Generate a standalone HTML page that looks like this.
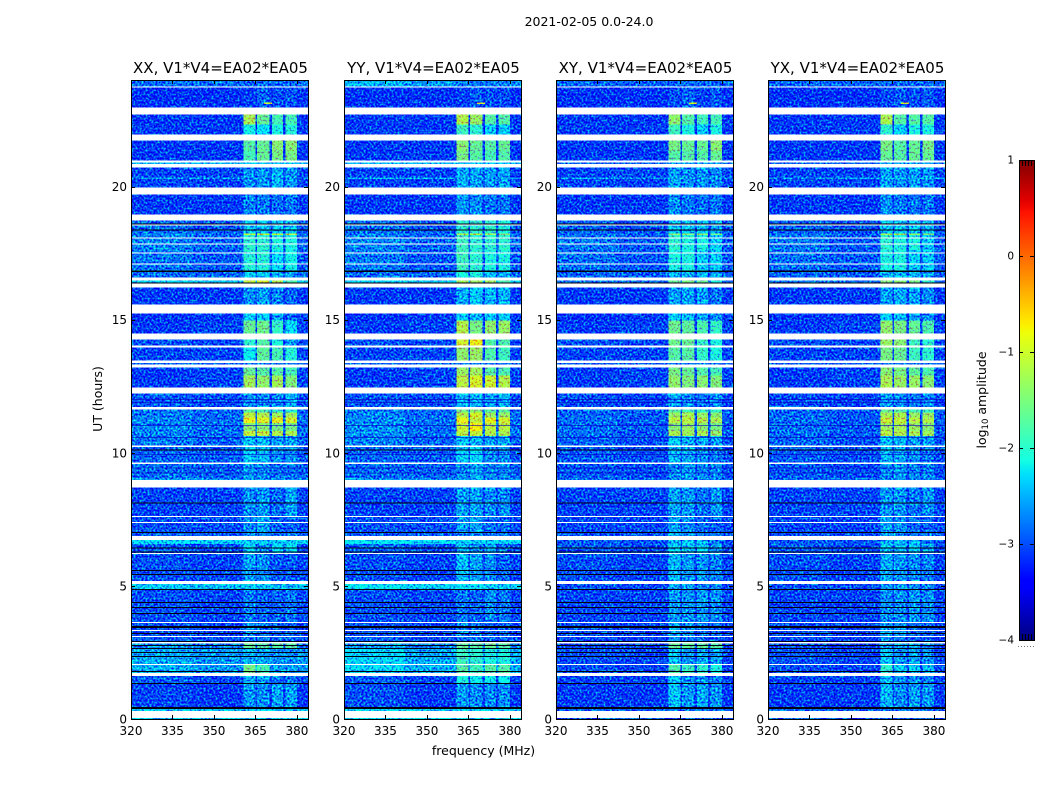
<!DOCTYPE html>
<html lang="en">
<head>
<meta charset="utf-8">
<title>2021-02-05 0.0-24.0 dynamic spectra</title>
<style>
html,body{margin:0;padding:0;background:#fff;width:1050px;height:800px;overflow:hidden}
svg{display:block}
text{font-family:"DejaVu Sans","Liberation Sans",sans-serif;fill:#000}
.tick{font-size:12px}
.title{font-size:15px;text-anchor:middle}
.lab{font-size:12.5px;text-anchor:middle}
</style>
</head>
<body>
<svg id="fig" xmlns="http://www.w3.org/2000/svg" width="1050" height="800" viewBox="0 0 1050 800">
<defs>
<filter id="speckle" x="0" y="0" width="1" height="1" color-interpolation-filters="sRGB">
<feTurbulence type="fractalNoise" baseFrequency="0.5" numOctaves="1" seed="7" result="n"/>
<feColorMatrix in="n" type="matrix" values="0 0 0 0 .5  2.2 0 0 0 -.6  0 .8 0 0 .1  0 0 0 0 1" result="m"/>
<feComposite in="SourceGraphic" in2="m" operator="arithmetic" k1="0" k2="1" k3="1" k4="-.5" result="s"/>
<feComposite in="s" in2="SourceAlpha" operator="in"/>
</filter>
<linearGradient id="jet" x1="0" y1="1" x2="0" y2="0"></linearGradient>
</defs>
<text x="589" y="26" font-size="12.5" text-anchor="middle">2021-02-05 0.0-24.0</text>
<text class="lab" x="483.5" y="755">frequency (MHz)</text>
<text class="lab" x="0" y="0" transform="translate(102,399) rotate(-90)">UT (hours)</text>
<text class="lab" x="0" y="0" transform="translate(986,400) rotate(-90)">log<tspan font-size="8.5" dy="2">10</tspan><tspan dy="-2"> amplitude</tspan></text>
<g id="panels"></g>
<g id="cbar"></g>
</svg>
<script>
// ---- data ----
const panelNames = ['XX', 'YY', 'XY', 'YX'];
const panelTitle = ', V1*V4=EA02*EA05';
const freqTicks = [320, 335, 350, 365, 380];
const utTicks = [0, 5, 10, 15, 20];
const cbarTicks = [1, 0, -1, -2, -3, -4];
const freqEdges = [320, 342, 360.6, 365, 365.6, 370, 371, 375, 375.8, 380.1, 384];
const columnSource = [0, 1, 2, 1, 3, 1, 4, 1, 5, 1];
const rowTops = [24,23.71,22.70,22.33,21.72,21.35,20.90,20.71,19.70,18.72,18.23,18.18,17.60,16.85,16.47,16.21,15.23,14.97,14.26,13.99,13.38,13.21,12.91,12.23,11.63,11.52,11.33,11.11,10.81,10.62,10.24,9.60,9.04,8.70,7.58,7.02,6.72,6.57,6.19,5.07,4.88,3.60,3.08,2.85,2.66,2.03,1.61,1.35,0.41,0.04];
const rowBottoms = [23.75,22.96,22.33,21.95,21.35,20.97,20.84,19.96,18.95,18.23,18.18,17.60,16.85,16.58,16.40,15.57,14.97,14.48,14.03,13.47,13.32,12.91,12.46,11.71,11.52,11.33,11.11,10.81,10.62,10.28,9.64,9.04,8.97,7.62,7.02,6.87,6.57,6.23,5.18,4.88,3.64,3.11,2.89,2.66,2.06,1.73,1.35,0.45,0.30,0];
const ampXX = [
[-2.85,-2.85,-2.9,-2.85,-2.9,-2.9],[-3.15,-3.15,-3.1,-2.9,-3.0,-2.95],[-3.1,-3.1,-1.25,-1.65,-1.85,-1.85],[-3.1,-3.1,-2.15,-2.3,-2.1,-2.05],
[-3.1,-3.1,-1.75,-1.65,-1.45,-1.45],[-3.1,-3.1,-1.85,-1.65,-1.55,-1.55],[-2.5,-2.5,-2.4,-2.4,-2.4,-2.4],[-3.05,-3.05,-2.7,-2.65,-2.5,-2.65],
[-3.1,-3.1,-2.75,-2.8,-2.85,-2.8],[-2.85,-2.95,-2.4,-2.4,-2.4,-2.4],[-2.75,-2.8,-1.1,-1.1,-1.1,-1.1],[-2.75,-2.9,-2.0,-2.0,-2.1,-2.1],
[-2.8,-2.95,-2.05,-2.05,-2.3,-2.15],[-2.85,-2.9,-2.4,-2.4,-2.5,-2.6],[-2.35,-2.4,-1.1,-1.0,-1.2,-1.8],[-3.1,-3.1,-2.7,-2.6,-2.75,-2.9],
[-3.15,-3.1,-2.4,-2.4,-2.6,-2.9],[-3.1,-3.05,-1.65,-1.6,-1.95,-2.3],[-3.0,-3.05,-2.0,-1.75,-2.1,-2.6],[-3.05,-3.05,-2.2,-1.7,-1.85,-2.05],
[-2.9,-2.9,-2.8,-2.8,-2.8,-2.8],[-3.1,-3.05,-1.65,-1.75,-1.75,-1.85],[-3.1,-3.05,-1.3,-1.4,-1.3,-1.5],[-2.95,-3.0,-2.7,-2.7,-2.7,-2.5],
[-2.8,-2.9,-1.75,-1.85,-2.0,-2.05],[-2.8,-2.9,-1.15,-1.2,-1.3,-1.3],[-2.75,-2.85,-0.85,-0.95,-0.9,-1.0],[-2.75,-2.85,-1.45,-1.45,-1.55,-1.55],
[-2.75,-2.85,-1.1,-1.1,-1.2,-1.25],[-2.8,-2.9,-2.4,-2.5,-2.6,-2.6],[-2.9,-2.95,-2.4,-2.5,-2.7,-2.7],[-2.85,-2.9,-2.6,-2.7,-2.8,-2.8],
[-2.6,-2.65,-2.6,-2.6,-2.7,-2.7],[-3.05,-3.05,-2.7,-2.65,-2.85,-2.6],[-3.0,-3.0,-2.7,-2.6,-2.9,-2.9],[-2.95,-2.95,-2.7,-2.7,-2.8,-2.8],
[-2.3,-2.35,-2.35,-2.4,-2.4,-2.4],[-2.95,-3.0,-2.3,-2.7,-2.3,-2.3],[-3.0,-3.05,-2.6,-2.7,-2.95,-2.95],[-2.4,-2.45,-2.4,-2.4,-2.5,-2.5],
[-3.0,-3.05,-2.8,-2.9,-2.9,-2.8],[-3.0,-3.05,-2.7,-2.8,-2.9,-2.9],[-2.95,-3.0,-2.8,-2.8,-2.9,-2.9],[-2.7,-2.8,-1.65,-1.75,-1.75,-1.75],
[-2.55,-2.65,-2.5,-2.6,-2.7,-2.7],[-2.5,-2.65,-1.55,-1.85,-2.6,-2.6],[-2.95,-3.05,-2.5,-2.6,-2.8,-2.8],[-3.05,-3.1,-2.65,-2.7,-2.6,-2.6],
[-2.4,-2.45,-2.4,-2.4,-2.5,-2.5],[-2.35,-2.4,-2.4,-2.4,-2.5,-2.5]];
const ampYY = [
[-2.5,-2.65,-2.8,-2.8,-2.8,-2.8],[-3.15,-3.15,-3.05,-2.95,-3.0,-3.0],[-3.1,-3.1,-1.2,-1.35,-1.75,-1.75],[-3.1,-3.1,-1.9,-2.0,-2.4,-2.4],
[-3.1,-3.1,-1.45,-1.65,-1.75,-1.65],[-3.1,-3.1,-1.55,-1.75,-1.85,-1.75],[-2.5,-2.5,-2.4,-2.4,-2.4,-2.4],[-3.05,-3.05,-2.55,-2.6,-2.6,-2.6],
[-3.1,-3.1,-2.65,-2.7,-2.8,-2.8],[-2.85,-2.95,-2.0,-2.0,-2.0,-2.1],[-2.75,-2.8,-1.2,-1.2,-1.25,-1.45],[-2.75,-2.9,-1.9,-2.0,-2.0,-2.0],
[-2.8,-2.95,-1.9,-2.0,-2.1,-2.1],[-2.85,-2.9,-2.1,-2.1,-2.4,-2.5],[-2.35,-2.4,-1.3,-1.3,-1.3,-1.8],[-3.1,-3.1,-2.55,-2.4,-2.5,-2.5],
[-3.15,-3.1,-2.4,-2.5,-2.4,-2.4],[-3.1,-3.05,-1.2,-1.55,-1.4,-1.35],[-3.0,-3.05,-1.0,-0.85,-1.8,-1.8],[-3.05,-3.05,-1.4,-1.35,-1.8,-1.9],
[-2.9,-2.9,-2.8,-2.8,-2.8,-2.8],[-3.1,-3.05,-1.35,-1.3,-1.75,-1.8],[-3.1,-3.05,-1.15,-1.0,-1.05,-1.2],[-2.95,-3.0,-2.5,-2.5,-2.6,-2.5],
[-2.8,-2.9,-1.55,-1.45,-1.75,-1.75],[-2.75,-2.85,-1.2,-1.0,-1.35,-1.35],[-2.7,-2.85,-0.85,-1.1,-0.9,-1.0],[-2.7,-2.85,-1.05,-0.8,-1.15,-1.15],
[-2.7,-2.85,-1.15,-1.1,-1.2,-1.25],[-2.75,-2.9,-2.4,-2.5,-2.6,-2.6],[-2.9,-2.95,-2.4,-2.3,-2.7,-2.7],[-2.85,-2.9,-2.7,-2.5,-2.7,-2.7],
[-2.6,-2.65,-2.6,-2.6,-2.7,-2.7],[-3.05,-3.05,-2.6,-2.6,-2.7,-2.7],[-3.0,-3.0,-2.6,-2.6,-2.8,-2.9],[-2.95,-2.95,-2.7,-2.7,-2.8,-2.8],
[-2.25,-2.3,-2.35,-2.4,-2.4,-2.4],[-2.9,-3.0,-2.5,-2.7,-2.5,-2.8],[-3.0,-3.05,-2.45,-2.6,-2.7,-2.9],[-2.25,-2.35,-2.3,-2.3,-2.4,-2.4],
[-3.0,-3.05,-2.8,-2.9,-2.7,-2.8],[-3.0,-3.05,-2.7,-2.8,-2.9,-2.9],[-2.9,-3.0,-2.8,-2.8,-2.9,-2.9],[-2.6,-2.75,-1.65,-1.75,-1.65,-1.75],
[-2.35,-2.55,-1.9,-2.0,-2.1,-2.1],[-2.35,-2.55,-1.75,-1.9,-1.75,-1.75],[-2.95,-3.05,-2.1,-2.2,-2.2,-2.2],[-3.0,-3.1,-2.65,-2.7,-2.7,-2.7],
[-2.3,-2.35,-2.3,-2.4,-2.4,-2.4],[-2.25,-2.3,-2.3,-2.4,-2.4,-2.4]];
const ampXY = [
[-2.9,-2.9,-2.9,-2.9,-2.9,-2.9],[-3.15,-3.15,-3.0,-2.9,-3.05,-2.95],[-3.1,-3.1,-1.4,-1.75,-1.85,-1.85],[-3.1,-3.1,-1.9,-2.1,-2.4,-2.1],
[-3.1,-3.1,-1.55,-1.65,-1.65,-1.45],[-3.1,-3.1,-1.75,-1.75,-1.75,-1.65],[-2.9,-2.9,-2.6,-2.6,-2.6,-2.6],[-3.05,-3.05,-2.6,-2.7,-2.65,-2.7],
[-3.1,-3.1,-2.7,-2.8,-2.85,-2.8],[-2.9,-3.0,-2.4,-2.4,-2.4,-2.5],[-2.85,-2.9,-1.4,-1.4,-1.4,-1.55],[-2.8,-2.95,-2.0,-2.1,-2.1,-2.4],
[-2.85,-2.95,-2.1,-2.1,-2.4,-2.4],[-2.9,-2.95,-2.5,-2.5,-2.5,-2.6],[-2.8,-2.85,-1.65,-1.55,-1.65,-2.1],[-3.1,-3.1,-2.6,-2.6,-2.6,-2.8],
[-3.15,-3.1,-2.4,-2.5,-2.6,-2.7],[-3.1,-3.05,-1.6,-1.7,-1.8,-1.95],[-3.0,-3.05,-1.6,-1.65,-1.95,-2.1],[-3.05,-3.05,-1.75,-1.75,-1.95,-2.1],
[-2.95,-2.95,-2.8,-2.8,-2.8,-2.8],[-3.1,-3.05,-1.55,-1.65,-1.75,-1.85],[-3.1,-3.05,-1.4,-1.5,-1.45,-1.5],[-3.0,-3.05,-2.6,-2.7,-2.8,-2.7],
[-2.9,-2.95,-1.75,-1.85,-1.95,-1.95],[-2.9,-2.95,-1.35,-1.25,-1.35,-1.45],[-2.85,-2.95,-1.15,-1.15,-1.2,-1.25],[-2.85,-2.95,-1.45,-1.35,-1.45,-1.55],
[-2.85,-2.95,-1.25,-1.3,-1.25,-1.35],[-2.9,-3.0,-2.4,-2.5,-2.6,-2.6],[-2.95,-3.0,-2.5,-2.6,-2.7,-2.8],[-2.95,-3.0,-2.7,-2.6,-2.7,-2.7],
[-2.85,-2.9,-2.7,-2.7,-2.8,-2.8],[-3.05,-3.05,-2.6,-2.65,-2.8,-2.65],[-3.05,-3.05,-2.6,-2.7,-2.85,-2.9],[-3.0,-3.0,-2.6,-2.7,-2.8,-2.8],
[-2.95,-3.0,-2.5,-2.4,-2.5,-2.8],[-2.95,-3.0,-2.4,-2.4,-2.3,-2.6],[-3.0,-3.05,-2.5,-2.65,-2.65,-2.75],[-3.0,-3.05,-2.55,-2.6,-2.7,-2.7],
[-3.05,-3.05,-2.65,-2.7,-2.65,-2.7],[-3.0,-3.05,-2.55,-2.65,-2.85,-2.9],[-3.05,-3.1,-2.7,-2.8,-2.9,-2.9],[-3.0,-3.05,-1.65,-1.7,-1.7,-1.75],
[-3.0,-3.05,-2.4,-2.65,-2.55,-2.6],[-3.0,-3.05,-1.8,-1.95,-2.0,-2.1],[-3.05,-3.05,-2.4,-2.7,-2.7,-2.8],[-3.1,-3.1,-2.45,-2.65,-2.55,-2.65],
[-2.9,-2.95,-2.8,-2.8,-2.8,-2.9],[-2.95,-3.0,-2.9,-2.9,-2.9,-2.9]];
const ampYX = [
[-2.9,-2.9,-2.9,-2.9,-2.9,-2.9],[-3.15,-3.15,-3.05,-2.95,-3.0,-2.95],[-3.1,-3.1,-1.25,-1.75,-1.75,-1.75],[-3.1,-3.1,-2.0,-2.4,-2.1,-2.1],
[-3.1,-3.1,-1.55,-1.75,-1.65,-1.55],[-3.1,-3.1,-1.65,-1.75,-1.65,-1.65],[-2.9,-2.9,-2.6,-2.6,-2.6,-2.6],[-3.05,-3.05,-2.6,-2.65,-2.6,-2.65],
[-3.1,-3.1,-2.7,-2.8,-2.8,-2.8],[-2.9,-3.0,-2.4,-2.4,-2.4,-2.5],[-2.85,-2.9,-1.25,-1.25,-1.35,-1.45],[-2.8,-2.95,-2.0,-2.1,-2.1,-2.4],
[-2.85,-2.95,-2.1,-2.1,-2.4,-2.4],[-2.9,-2.95,-2.5,-2.5,-2.5,-2.6],[-2.8,-2.85,-1.45,-1.45,-1.55,-2.0],[-3.1,-3.1,-2.6,-2.55,-2.6,-2.7],
[-3.15,-3.1,-2.4,-2.5,-2.6,-2.7],[-3.1,-3.05,-1.4,-1.55,-1.65,-1.8],[-3.0,-3.05,-1.35,-1.45,-1.9,-2.0],[-3.05,-3.05,-1.55,-1.65,-1.9,-2.0],
[-2.95,-2.95,-2.8,-2.8,-2.8,-2.8],[-3.1,-3.05,-1.45,-1.55,-1.7,-1.8],[-3.1,-3.05,-1.25,-1.35,-1.35,-1.45],[-3.0,-3.05,-2.6,-2.7,-2.8,-2.7],
[-2.9,-2.95,-1.65,-1.75,-1.85,-1.95],[-2.9,-2.95,-1.25,-1.25,-1.35,-1.35],[-2.85,-2.95,-1.05,-1.1,-1.15,-1.2],[-2.85,-2.95,-1.3,-1.25,-1.35,-1.45],
[-2.85,-2.95,-1.15,-1.2,-1.25,-1.3],[-2.9,-3.0,-2.4,-2.5,-2.6,-2.6],[-2.95,-3.0,-2.5,-2.6,-2.7,-2.8],[-2.95,-3.0,-2.7,-2.6,-2.7,-2.7],
[-2.85,-2.9,-2.7,-2.7,-2.8,-2.8],[-3.05,-3.05,-2.65,-2.65,-2.8,-2.65],[-3.05,-3.05,-2.6,-2.7,-2.85,-2.9],[-3.0,-3.0,-2.6,-2.7,-2.8,-2.8],
[-2.95,-3.0,-2.5,-2.5,-2.5,-2.8],[-2.95,-3.0,-2.45,-2.5,-2.4,-2.65],[-3.0,-3.05,-2.55,-2.65,-2.7,-2.75],[-3.0,-3.05,-2.6,-2.6,-2.7,-2.7],
[-3.05,-3.05,-2.7,-2.7,-2.65,-2.7],[-3.0,-3.05,-2.6,-2.65,-2.85,-2.9],[-3.05,-3.1,-2.7,-2.8,-2.9,-2.9],[-3.0,-3.05,-2.6,-2.6,-2.6,-2.7],
[-3.0,-3.05,-2.4,-2.65,-2.6,-2.65],[-3.0,-3.05,-2.0,-2.4,-2.4,-2.5],[-3.05,-3.05,-2.5,-2.7,-2.7,-2.8],[-3.1,-3.1,-2.5,-2.7,-2.6,-2.65],
[-2.9,-2.95,-2.8,-2.8,-2.8,-2.9],[-2.95,-3.0,-2.9,-2.9,-2.9,-2.9]];
const panelAmps = [ampXX, ampYY, ampXY, ampYX];
const flaggedLines = [23.75,18.57,18.08,17.86,17.52,17.11,13.99,10.26,9.62,7.39,3.34,2.87,2.06,13.40,15.52];
const deadLines = [18.61,18.38,16.85,16.82,16.40,10.13,8.14,7.02,6.45,6.30,5.59,5.44,4.88,4.39,4.20,3.98,3.49,3.46,3.23,2.93,2.78,2.66,2.51,2.36,1.80,1.35,0.45,0.42];
const dimLines = [12.02,11.90,11.05,10.60,9.95,9.45,9.25];
const spotFreq = [368.0, 345.5, 320];
const spotWidth = [3, 2, 64];
const spotUT = [23.15, 23.19, 20.33];
const spotAmp = [-1.0, -2.6, -2.6];

// ---- layout & axes ----
const NS = 'http://www.w3.org/2000/svg';
const panelLeft = [131, 344, 556, 768];
const plotW = 177, plotTop = 80, plotBottom = 719;
const xOf = (left, f) => left + (f - 320) * plotW / 64;
const yOf = u => plotBottom - u * (plotBottom - plotTop) / 24;
const cbTop = 160, cbBottom = 640, cbLeft = 1019, cbRight = 1034;
const yCb = v => cbBottom - (v + 4) * (cbBottom - cbTop) / 5;
function lerp(t, pts) {
  for (let i = 1; i < pts.length; i++) {
    if (t <= pts[i][0]) {
      const a = pts[i - 1], b = pts[i];
      return a[1] + (b[1] - a[1]) * (t - a[0]) / (b[0] - a[0]);
    }
  }
  return pts[pts.length - 1][1];
}
function jet(v) {
  const t = Math.max(0, Math.min(1, (v + 4) / 5));
  const r = lerp(t, [[0,0],[.35,0],[.66,1],[.89,1],[1,.5]]);
  const g = lerp(t, [[0,0],[.125,0],[.375,1],[.64,1],[.91,0],[1,0]]);
  const b = lerp(t, [[0,.5],[.11,1],[.34,1],[.65,0],[1,0]]);
  return 'rgb(' + Math.round(r * 255) + ',' + Math.round(g * 255) + ',' + Math.round(b * 255) + ')';
}
function el(tag, parent, attrs) {
  const e = document.createElementNS(NS, tag);
  for (const k in attrs) e.setAttribute(k, attrs[k]);
  parent.appendChild(e);
  return e;
}
const root = document.getElementById('panels');
panelNames.forEach((name, p) => {
  const L = panelLeft[p];
  const amps = panelAmps[p];
  const g = el('g', root, {});
  
  
  const cells = el('g', g, { filter: 'url(#speckle)', 'shape-rendering': 'crispEdges' });
  
  
  rowTops.forEach((top, r) => {
    for (let c = 0; c < columnSource.length; c++) {
      const x0 = xOf(L, freqEdges[c]), x1 = xOf(L, freqEdges[c + 1]);
      const y0 = yOf(top), y1 = yOf(rowBottoms[r]);
      const cell = el('rect', cells, { x: x0, y: y0, width: x1 - x0, height: Math.max(1, y1 - y0), fill: jet(amps[r][columnSource[c]]) });
      
      
    }
  });
  spotFreq.forEach((f, i) => {
    const s = el('rect', cells, { x: xOf(L, f), y: yOf(spotUT[i]), width: xOf(L, f + spotWidth[i]) - xOf(L, f), height: 1.5, fill: jet(spotAmp[i]) });
    
    
  });
  const lines = el('g', g, { 'shape-rendering': 'crispEdges' });
  
  
  dimLines.forEach(u => {
    const d = el('rect', lines, { x: L, y: yOf(u), width: plotW, height: 1, fill: '#0000c0', opacity: .6 });
    
    
  });
  deadLines.forEach(u => {
    const d = el('rect', lines, { x: L, y: yOf(u), width: plotW, height: 1, fill: '#000010' });
    
    
  });
  flaggedLines.forEach(u => {
    const d = el('rect', lines, { x: L, y: yOf(u), width: plotW, height: 1, fill: '#fff' });
    
    
  });
  const frame = el('rect', g, { x: L + .5, y: plotTop + .5, width: plotW, height: plotBottom - plotTop, fill: 'none', stroke: '#000', 'stroke-width': 1, 'shape-rendering': 'crispEdges' });
  
  
  freqTicks.forEach(f => {
    const x = Math.round(xOf(L, f)) + .5;
    const t1 = el('line', g, { x1: x, x2: x, y1: plotBottom, y2: plotBottom - 4, stroke: '#000', 'shape-rendering': 'crispEdges' });
    
    
    const t2 = el('line', g, { x1: x, x2: x, y1: plotTop, y2: plotTop + 4, stroke: '#000', 'shape-rendering': 'crispEdges' });
    
    
    const lab = el('text', g, { class: 'tick', x: xOf(L, f), y: 735, 'text-anchor': 'middle' });
    lab.textContent = f;
    
    
  });
  utTicks.forEach(u => {
    const y = Math.round(yOf(u)) + .5;
    const t1 = el('line', g, { x1: L, x2: L + 4, y1: y, y2: y, stroke: '#000', 'shape-rendering': 'crispEdges' });
    
    
    const t2 = el('line', g, { x1: L + plotW, x2: L + plotW - 4, y1: y, y2: y, stroke: '#000', 'shape-rendering': 'crispEdges' });
    
    
    const lab = el('text', g, { class: 'tick', x: L - 4, y: yOf(u) + 4.5, 'text-anchor': 'end' });
    lab.textContent = u;
    
    
  });
  const title = el('text', g, { class: 'title', x: L + plotW / 2 + 1, y: 73 });
  title.textContent = name + panelTitle;
  
  
});

// ---- colorbar ----
const grad = document.getElementById('jet');
for (let i = 0; i <= 64; i++) {
  el('stop', grad, { offset: i / 64, 'stop-color': jet(-4 + 5 * i / 64) });
}
const cb = document.getElementById('cbar');
const cbBody = el('rect', cb, { x: cbLeft, y: cbTop, width: cbRight - cbLeft, height: cbBottom - cbTop, fill: 'url(#jet)' });


const cbFrame = el('rect', cb, { x: cbLeft + .5, y: cbTop + .5, width: cbRight - cbLeft, height: cbBottom - cbTop, fill: 'none', stroke: '#000', 'shape-rendering': 'crispEdges' });


cbarTicks.forEach(v => {
  const y = Math.round(yCb(v)) + .5;
  const a = el('line', cb, { x1: cbLeft, x2: cbLeft + 4, y1: y, y2: y, stroke: '#000', 'shape-rendering': 'crispEdges' });
  
  
  const b = el('line', cb, { x1: cbRight, x2: cbRight - 4, y1: y, y2: y, stroke: '#000', 'shape-rendering': 'crispEdges' });
  
  
  const lab = el('text', cb, { x: 1014, y: yCb(v) + 3.5, 'font-size': 10.5, 'text-anchor': 'end' });
  lab.textContent = v < 0 ? '\u2212' + (-v) : v;
  
  
});
for (let i = 1; i < 5; i++) {
  const x = cbLeft + i * 3 + .5;
  const m1 = el('line', cb, { x1: x, x2: x, y1: cbTop, y2: cbTop + 6, stroke: '#000', 'shape-rendering': 'crispEdges' });
  
  
  const m2 = el('line', cb, { x1: x, x2: x, y1: cbBottom, y2: cbBottom - 6, stroke: '#000', 'shape-rendering': 'crispEdges' });
  
  
}
const dots = el('line', cb, { x1: 1018, x2: 1035, y1: 646.5, y2: 646.5, stroke: '#777', 'stroke-dasharray': '1 2', 'shape-rendering': 'crispEdges' });


</script>
</body>
</html>
